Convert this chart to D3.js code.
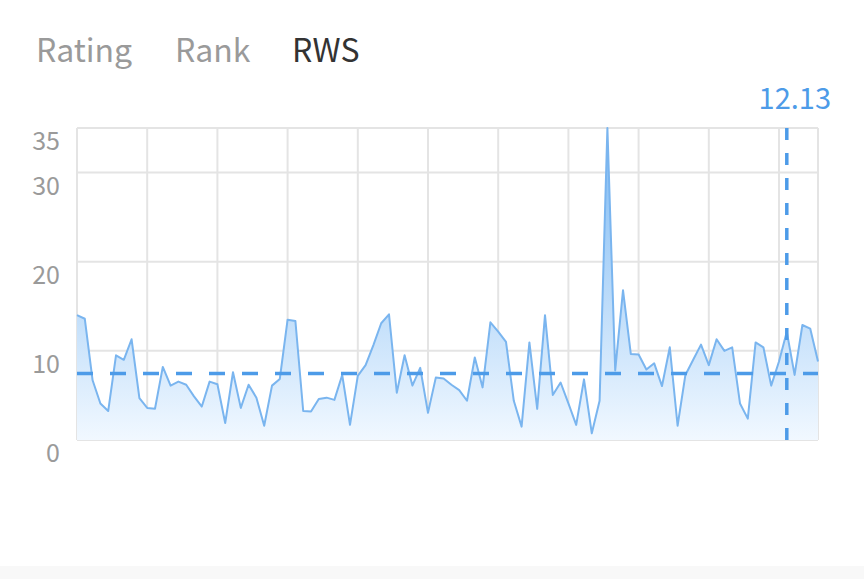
<!DOCTYPE html>
<html>
<head>
<meta charset="utf-8">
<script src="https://cdn.jsdelivr.net/npm/d3@7"></script>
<style>
  body { margin: 0; background: #fff; }
  svg { display: block; font-family: "Noto Sans CJK SC", "Noto Sans", sans-serif; }
</style>
</head>
<body>
<svg id="chart" width="864" height="579"></svg>
<script>
// tabs on top
var tabs = ["Rating", "Rank", "RWS"];
var activeTab = "RWS";

// RWS per match, oldest first
var rws = [14.0, 13.6, 6.7, 4.1, 3.25, 9.5, 9.0, 11.3, 4.7, 3.6,
           3.5, 8.2, 6.1, 6.55, 6.2, 4.9, 3.75, 6.55, 6.25, 1.9,
           7.6, 3.6, 6.2, 4.75, 1.6, 6.1, 6.85, 13.5, 13.35, 3.25,
           3.2, 4.6, 4.75, 4.5, 7.3, 1.7, 7.2, 8.4, 10.65, 13.1,
           14.1, 5.3, 9.5, 6.1, 8.1, 3.05, 7.0, 6.9, 6.2, 5.6,
           4.4, 9.25, 5.9, 13.2, 12.15, 11.0, 4.4, 1.5, 10.95, 3.5,
           14.0, 5.05, 6.45, 4.1, 1.7, 6.8, 0.75, 4.4, 35, 7.8,
           16.8, 9.65, 9.6, 7.9, 8.6, 6.05, 10.4, 1.6, 7.3, 9.0,
           10.7, 8.4, 11.3, 10.0, 10.4, 4.1, 2.4, 10.95, 10.4, 6.1,
           8.8, 12.13, 7.3, 12.9, 12.5, 8.8];

var yTicks = [0, 10, 20, 30, 35];
var avgRws = 7.45;      // dashed average line
var selectedIndex = 91; // highlighted match
var gridEvery = 9;      // vertical grid step (matches)

var svg = d3.select("#chart");

var x = d3.scaleLinear().domain([0, rws.length - 1]).range([77, 818]);
var y = d3.scaleLinear().domain([0, 35]).range([440, 128]);

//Tabs
var tabX = [36, 175, 292];
svg.selectAll("text.tab")
  .data(tabs)
  .enter()
  .append("text")
  .attr("class", "tab")
  .attr("x", function (d, i) { return tabX[i]; })
  .attr("y", 62)
  .style("font-size", "32px")
  .style("fill", function (d) { return d === activeTab ? "#333333" : "#9a9a9a"; })
  .text(function (d) { return d; });

//Gradient for the area
var grad = svg.append("defs").append("linearGradient")
  .attr("id", "areaFill")
  .attr("gradientUnits", "userSpaceOnUse")
  .attr("x1", 0).attr("x2", 0)
  .attr("y1", y(35)).attr("y2", y(0));
grad.append("stop").attr("offset", "0%").attr("stop-color", "#7cb9f3");
grad.append("stop").attr("offset", "100%").attr("stop-color", "#f1f8ff");

//Grid
var vIdx = d3.range(0, rws.length, gridEvery).concat([rws.length - 1]);
svg.append("g")
  .selectAll("line")
  .data(vIdx)
  .enter()
  .append("line")
  .attr("x1", function (d) { return x(d); })
  .attr("x2", function (d) { return x(d); })
  .attr("y1", y(35))
  .attr("y2", y(0))
  .attr("stroke", "#e4e4e4")
  .attr("stroke-width", 2);

svg.append("g")
  .selectAll("line")
  .data(yTicks)
  .enter()
  .append("line")
  .attr("x1", x(0))
  .attr("x2", x(rws.length - 1))
  .attr("y1", function (d) { return y(d); })
  .attr("y2", function (d) { return y(d); })
  .attr("stroke", "#e4e4e4")
  .attr("stroke-width", 2);

//Y labels
svg.append("g")
  .selectAll("text")
  .data(yTicks)
  .enter()
  .append("text")
  .attr("x", 60)
  .attr("y", function (d) { return y(d) + 22; })
  .attr("text-anchor", "end")
  .style("font-size", "25px")
  .style("fill", "#9a9a9a")
  .text(function (d) { return d; });

//Area + line
var area = d3.area()
  .x(function (d, i) { return x(i); })
  .y0(y(0))
  .y1(function (d) { return y(d); });
var line = d3.line()
  .x(function (d, i) { return x(i); })
  .y(function (d) { return y(d); });

svg.append("path")
  .datum(rws)
  .attr("d", area)
  .attr("fill", "url(#areaFill)");

svg.append("path")
  .datum(rws)
  .attr("d", line)
  .attr("fill", "none")
  .attr("stroke", "#7ab5ef")
  .attr("stroke-width", 2)
  .attr("stroke-linejoin", "round");

//Average line
svg.append("line")
  .attr("x1", x(0))
  .attr("x2", x(rws.length - 1))
  .attr("y1", y(avgRws))
  .attr("y2", y(avgRws))
  .attr("stroke", "#4d9be8")
  .attr("stroke-width", 3.5)
  .attr("stroke-dasharray", "16,17");

//Selected match marker
svg.append("line")
  .attr("x1", x(selectedIndex))
  .attr("x2", x(selectedIndex))
  .attr("y1", y(35))
  .attr("y2", y(0))
  .attr("stroke", "#4d9be8")
  .attr("stroke-width", 3.5)
  .attr("stroke-dasharray", "12,13");

svg.append("text")
  .attr("x", x(selectedIndex) + 8)
  .attr("y", 109)
  .attr("text-anchor", "middle")
  .style("font-size", "29px")
  .style("fill", "#4d9be8")
  .text(rws[selectedIndex].toFixed(2));

//Faint bottom band
svg.append("rect")
  .attr("x", 0).attr("y", 566)
  .attr("width", 864).attr("height", 13)
  .attr("fill", "#f8f8f8");
</script>
</body>
</html>
